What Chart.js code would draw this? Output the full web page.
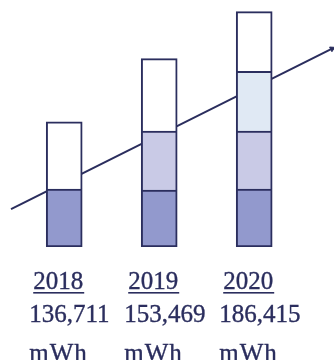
<!DOCTYPE html>
<html>
<head>
<meta charset="utf-8">
<script src="https://cdn.jsdelivr.net/npm/chart.js@4/dist/chart.umd.min.js"></script>
<style>
  html, body { margin: 0; padding: 0; background: #fff; }
  #wrap { width: 334px; height: 360px; overflow: hidden; }
</style>
</head>
<body>
<div id="wrap"><canvas id="energyChart" width="334" height="360"></canvas></div>
<script>
// years and yearly totals shown under each column
const years  = ['2018', '2019', '2020'];
const totals = [136711, 153469, 186415];
const unit   = 'mWh';

// stacked blocks per column, bottom to top (null = no block)
const tier1 = [10, 9.8, 10];
const tier2 = [11.6, 10.2, 10];
const tier3 = [null, 12.5, 10.3];
const tier4 = [null, null, 10.3];

// rising trend arrow behind the columns
const trendX = [-0.56, 2.82];
const trendY = [6.55, 34.2];

const NAVY     = '#2b2e5e';
const DARK     = '#9299cd';
const LAVENDER = '#c9cae6';
const ICE      = '#e0e9f4';
const WHITE    = '#ffffff';

const toPoints = arr => arr.map((v, i) => ({ x: i, y: v }));

const sideBorder  = { top: 2, left: 2, right: 2, bottom: 0 };
const fullBorder  = { top: 2, left: 2, right: 2, bottom: 2 };

function barSet(values, colors, border) {
  return {
    type: 'bar',
    data: toPoints(values),
    backgroundColor: colors,
    borderColor: NAVY,
    borderWidth: border,
    borderSkipped: false,
    barThickness: 36,
    order: 0
  };
}

// slightly heavier serif text
function drawText(ctx, txt, x, y) {
  ctx.fillText(txt, x, y);
  ctx.strokeText(txt, x, y);
}

// labels under each column: underlined year, total, unit
const labelPlugin = {
  id: 'yearLabels',
  afterDraw(chart) {
    const { ctx } = chart;
    const xs = chart.scales.x;
    ctx.save();
    ctx.fillStyle = NAVY;
    ctx.strokeStyle = NAVY;
    ctx.lineWidth = 0.35;
    ctx.font = "25px 'Liberation Serif', serif";
    ctx.textAlign = 'left';
    ctx.textBaseline = 'alphabetic';
    years.forEach((yr, i) => {
      const cx = xs.getPixelForValue(i);
      const left = cx - 33;
      ctx.letterSpacing = '0px';
      const yw = ctx.measureText(yr).width;
      drawText(ctx, yr, left + 2, 289);
      ctx.fillRect(left + 2, 292, yw + 1, 1.6);
      drawText(ctx, totals[i].toLocaleString('en-US'), left - 2, 322);
      ctx.letterSpacing = '1px';
      drawText(ctx, unit, left - 2, 361);
    });
    ctx.restore();
  }
};

new Chart(document.getElementById('energyChart'), {
  data: {
    datasets: [
      {
        type: 'line',
        data: trendX.map((x, i) => ({ x, y: trendY[i] })),
        borderColor: NAVY,
        backgroundColor: NAVY,
        borderWidth: 2,
        pointRadius: [0, 3],
        pointStyle: 'triangle',
        pointRotation: 63.5,
        pointBorderWidth: 1,
        clip: false,
        order: 10
      },
      barSet(tier1, [DARK, DARK, DARK], fullBorder),
      barSet(tier2, [WHITE, LAVENDER, LAVENDER], sideBorder),
      barSet(tier3, [WHITE, WHITE, ICE], sideBorder),
      barSet(tier4, [WHITE, WHITE, WHITE], sideBorder)
    ]
  },
  options: {
    responsive: false,
    animation: false,
    layout: { autoPadding: false, padding: { left: 0, right: 0, top: 0, bottom: 113 } },
    plugins: {
      legend: { display: false },
      tooltip: { enabled: false }
    },
    scales: {
      x: { type: 'linear', min: -0.676, max: 2.84, offset: false, stacked: true, display: false },
      y: { type: 'linear', min: 0, max: 42.6, stacked: true, display: false }
    }
  },
  plugins: [labelPlugin]
});
</script>
</body>
</html>
